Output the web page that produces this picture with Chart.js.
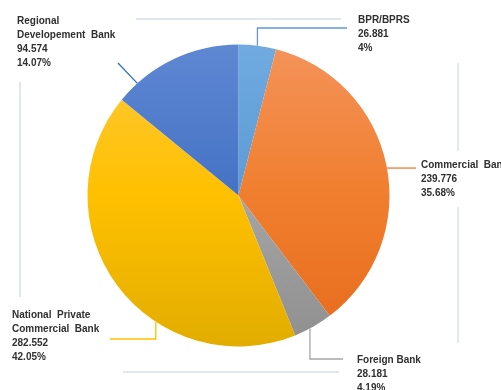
<!DOCTYPE html>
<html>
<head>
<meta charset="utf-8">
<script src="https://cdn.jsdelivr.net/npm/chart.js@4"></script>
<style>
html,body{margin:0;padding:0;background:#fff;}
#wrap{position:relative;width:501px;height:390px;}
</style>
</head>
<body>
<div id="wrap"><canvas id="c" width="501" height="390"></canvas></div>
<script>
const categories = ["BPR/BPRS", "Commercial Bank", "Foreign Bank", "National Private Commercial Bank", "Regional Developement Bank"];
const values = [26.881, 239.776, 28.181, 282.552, 94.574];
const valueLabels = ["26.881", "239.776", "28.181", "282.552", "94.574"];
const percentLabels = ["4%", "35.68%", "4.19%", "42.05%", "14.07%"];
const labelLines = [["BPR/BPRS"], ["Commercial  Bank"], ["Foreign Bank"], ["National  Private", "Commercial  Bank"], ["Regional", "Developement  Bank"]];

const topColors = ["#70aae0", "#f4935a", "#b8b8b8", "#ffc93c", "#5f88d3"];
const midColors = ["#5b9bd5", "#f07e2e", "#a5a5a5", "#ffc000", "#4472c4"];
const bottomColors = ["#4a8bcb", "#e66b1c", "#8f8f8f", "#e2ad00", "#3262bd"];

// label layout (text left x, first line centre y), leader elbow/end points
const labelLayout = [
  {x: 358, y: 20, frac: 0.5, path: (s) => [[s.x, 28], [347, 28]]},
  {x: 421, y: 165, frac: 0.507, path: (s) => [[416, s.y]]},
  {x: 357, y: 360, frac: 0.59, path: (s) => [[s.x, 359], [343, 359]]},
  {x: 12, y: 315, frac: 0.365, path: (s) => [[s.x, 339], [110, 339]]},
  {x: 17, y: 21, frac: 0.17, path: (s) => [[118, 63]]}
];
const leaderColors = ["#5b9bd5", "#ed7d31", "#a5a5a5", "#ffc000", "#2e75b6"];

function grad(ctx, i) {
  const ch = ctx.chart;
  const a = ch.chartArea;
  if (!a) return midColors[i];
  const g = ch.ctx.createLinearGradient(0, a.top, 0, a.bottom);
  g.addColorStop(0, topColors[i]);
  g.addColorStop(0.5, midColors[i]);
  g.addColorStop(1, bottomColors[i]);
  return g;
}

const framePlugin = {
  id: 'frame',
  beforeDraw(chart) {
    const c = chart.ctx;
    c.save();
    c.strokeStyle = '#e2e7ee';
    c.lineWidth = 2;
    c.beginPath();
    c.moveTo(136, 19); c.lineTo(341, 19);
    c.moveTo(458, 63); c.lineTo(458, 343);
    c.moveTo(123, 372); c.lineTo(339, 372);
    c.moveTo(20, 82); c.lineTo(20, 297);
    c.stroke();
    c.restore();
  }
};

const labelPlugin = {
  id: 'pieLabels',
  afterDatasetsDraw(chart) {
    const c = chart.ctx;
    const meta = chart.getDatasetMeta(0);
    c.save();
    meta.data.forEach((arc, i) => {
      const L = labelLayout[i];
      const ang = arc.startAngle + (arc.endAngle - arc.startAngle) * L.frac;
      const s = {x: arc.x + Math.cos(ang) * arc.outerRadius, y: arc.y + Math.sin(ang) * arc.outerRadius};
      const pts = L.path(s);
      c.strokeStyle = leaderColors[i];
      c.lineWidth = 1.3;
      c.beginPath();
      c.moveTo(s.x, s.y);
      pts.forEach(p => c.lineTo(p[0], p[1]));
      c.stroke();
      const lines = labelLines[i].concat([valueLabels[i], percentLabels[i]]);
      c.fillStyle = '#fff';
      c.fillRect(L.x - 4, L.y - 14, 90, lines.length * 14 + 14);
      c.fillStyle = '#303030';
      c.font = 'bold 10px "Liberation Sans", Arial, sans-serif';
      c.textBaseline = 'middle';
      c.textAlign = 'left';
      lines.forEach((t, k) => c.fillText(t, L.x, L.y + k * 14));
    });
    c.restore();
  }
};

new Chart(document.getElementById('c'), {
  type: 'pie',
  data: {
    labels: categories,
    datasets: [{
      data: values,
      backgroundColor: (ctx) => grad(ctx, ctx.dataIndex),
      borderWidth: 0
    }]
  },
  options: {
    responsive: false,
    animation: false,
    layout: {padding: {left: 87.5, right: 111.5, top: 44.5, bottom: 43.5}},
    plugins: {legend: {display: false}, tooltip: {enabled: false}}
  },
  plugins: [framePlugin, labelPlugin]
});
</script>
</body>
</html>
